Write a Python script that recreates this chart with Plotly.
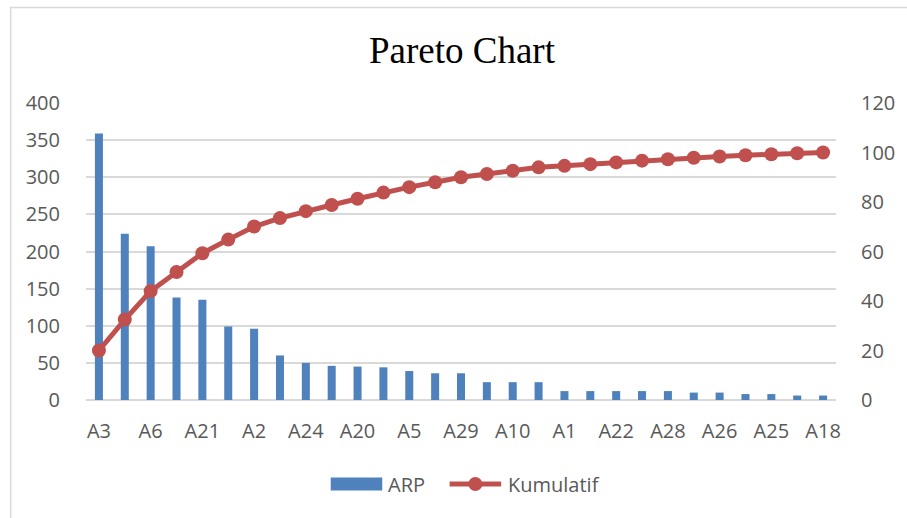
import plotly.graph_objects as go

# Defect categories, sorted by frequency (descending)
categories = [
    "A3", "A4", "A6", "A7", "A21", "A8", "A2", "A9", "A24", "A11",
    "A20", "A12", "A5", "A13", "A29", "A14", "A10", "A15", "A1", "A16",
    "A22", "A17", "A28", "A19", "A26", "A23", "A25", "A27", "A18",
]
# Frequency per category
arp = [
    359, 224, 207, 138, 135, 99, 96, 60, 50, 46,
    45, 44, 39, 36, 36, 24, 24, 24, 12, 12,
    12, 12, 12, 10, 10, 8, 8, 6, 6,
]
# Cumulative percentage
kumulatif = [
    20.0, 32.5, 44.0, 51.7, 59.3, 64.8, 70.1, 73.5, 76.3, 78.8,
    81.3, 83.8, 86.0, 88.0, 90.0, 91.3, 92.6, 94.0, 94.6, 95.3,
    96.0, 96.7, 97.3, 97.9, 98.4, 98.9, 99.3, 99.7, 100.0,
]
left_ticks = [0, 50, 100, 150, 200, 250, 300, 350, 400]
right_ticks = [0, 20, 40, 60, 80, 100, 120]

BLUE = "#4F81BD"
RED = "#C0504D"
GRID = "#D9D9D9"
TEXT = "#595959"
TICK_FONT = dict(family="Open Sans", size=20, color=TEXT)

W, H = 907, 518
L, R, T, B = 86, 64, 103, 118
PW, PH = W - L - R, H - T - B


def px_x(x):
    return (x - L) / PW


def px_y(y):
    return (H - B - y) / PH


fig = go.Figure()
fig.add_trace(go.Bar(
    x=categories, y=arp, name="ARP",
    marker=dict(color=BLUE, line=dict(width=0)),
    yaxis="y", showlegend=False,
))
fig.add_trace(go.Scatter(
    x=categories, y=kumulatif, name="Kumulatif",
    mode="lines+markers",
    line=dict(color=RED, width=5),
    marker=dict(color=RED, size=14, line=dict(width=0)),
    yaxis="y2", showlegend=False,
))

# legend row, drawn below the plot
LEG_Y = 484
legend_shapes = [
    dict(type="rect", xref="paper", yref="paper",
         x0=px_x(333), x1=px_x(385), y0=px_y(490.5), y1=px_y(477.5),
         line=dict(width=0), fillcolor=BLUE),
    dict(type="line", xref="paper", yref="paper",
         x0=px_x(453), x1=px_x(505), y0=px_y(LEG_Y), y1=px_y(LEG_Y),
         line=dict(color=RED, width=5)),
    dict(type="circle", xref="paper", yref="paper",
         x0=px_x(472), x1=px_x(486), y0=px_y(LEG_Y + 7), y1=px_y(LEG_Y - 7),
         line=dict(width=0), fillcolor=RED),
]
legend_labels = [
    dict(text="ARP", xref="paper", yref="paper",
         x=px_x(389), y=px_y(LEG_Y), xanchor="left", yanchor="middle",
         showarrow=False, font=TICK_FONT),
    dict(text="Kumulatif", xref="paper", yref="paper",
         x=px_x(510), y=px_y(LEG_Y), xanchor="left", yanchor="middle",
         showarrow=False, font=TICK_FONT),
]

fig.update_layout(
    width=W, height=H,
    margin=dict(l=L, r=R, t=T, b=B),
    paper_bgcolor="white", plot_bgcolor="white",
    bargap=0.69,
    showlegend=False,
    xaxis=dict(
        type="category", range=[-0.5, len(categories) - 0.5],
        tickmode="array", tickvals=categories[::2],
        showgrid=False, showline=False, zeroline=False,
        ticks="outside", ticklen=13, tickcolor="rgba(0,0,0,0)",
        tickfont=TICK_FONT,
    ),
    yaxis=dict(
        range=[0, 400], tickmode="array", tickvals=left_ticks,
        showgrid=True, gridcolor=GRID, gridwidth=1.5,
        zeroline=True, zerolinecolor=GRID, zerolinewidth=1.5,
        showline=False,
        ticks="outside", ticklen=21, tickcolor="rgba(0,0,0,0)",
        tickfont=TICK_FONT,
    ),
    yaxis2=dict(
        range=[0, 120], tickmode="array", tickvals=right_ticks,
        overlaying="y", side="right",
        showgrid=False, zeroline=False, showline=False,
        ticks="outside", ticklen=20, tickcolor="rgba(0,0,0,0)",
        tickfont=TICK_FONT,
    ),
    shapes=[
        # chart frame
        dict(type="rect", xref="paper", yref="paper",
             x0=px_x(10), x1=px_x(W + 40), y0=px_y(H + 40), y1=px_y(7.5),
             line=dict(color=GRID, width=1.5), fillcolor="rgba(0,0,0,0)",
             layer="below"),
    ] + legend_shapes,
    annotations=[
        dict(text="Pareto Chart", xref="paper", yref="paper",
             x=px_x(466), y=px_y(50), xanchor="center", yanchor="middle",
             showarrow=False,
             font=dict(family="Liberation Serif", size=37, color="black")),
        dict(text="Pareto Chart", xref="paper", yref="paper",
             x=px_x(471), y=px_y(8), xanchor="center", yanchor="bottom",
             showarrow=False,
             font=dict(family="Liberation Serif", size=32, color="#333333")),
    ] + legend_labels,
)

fig.write_html("out.html")
